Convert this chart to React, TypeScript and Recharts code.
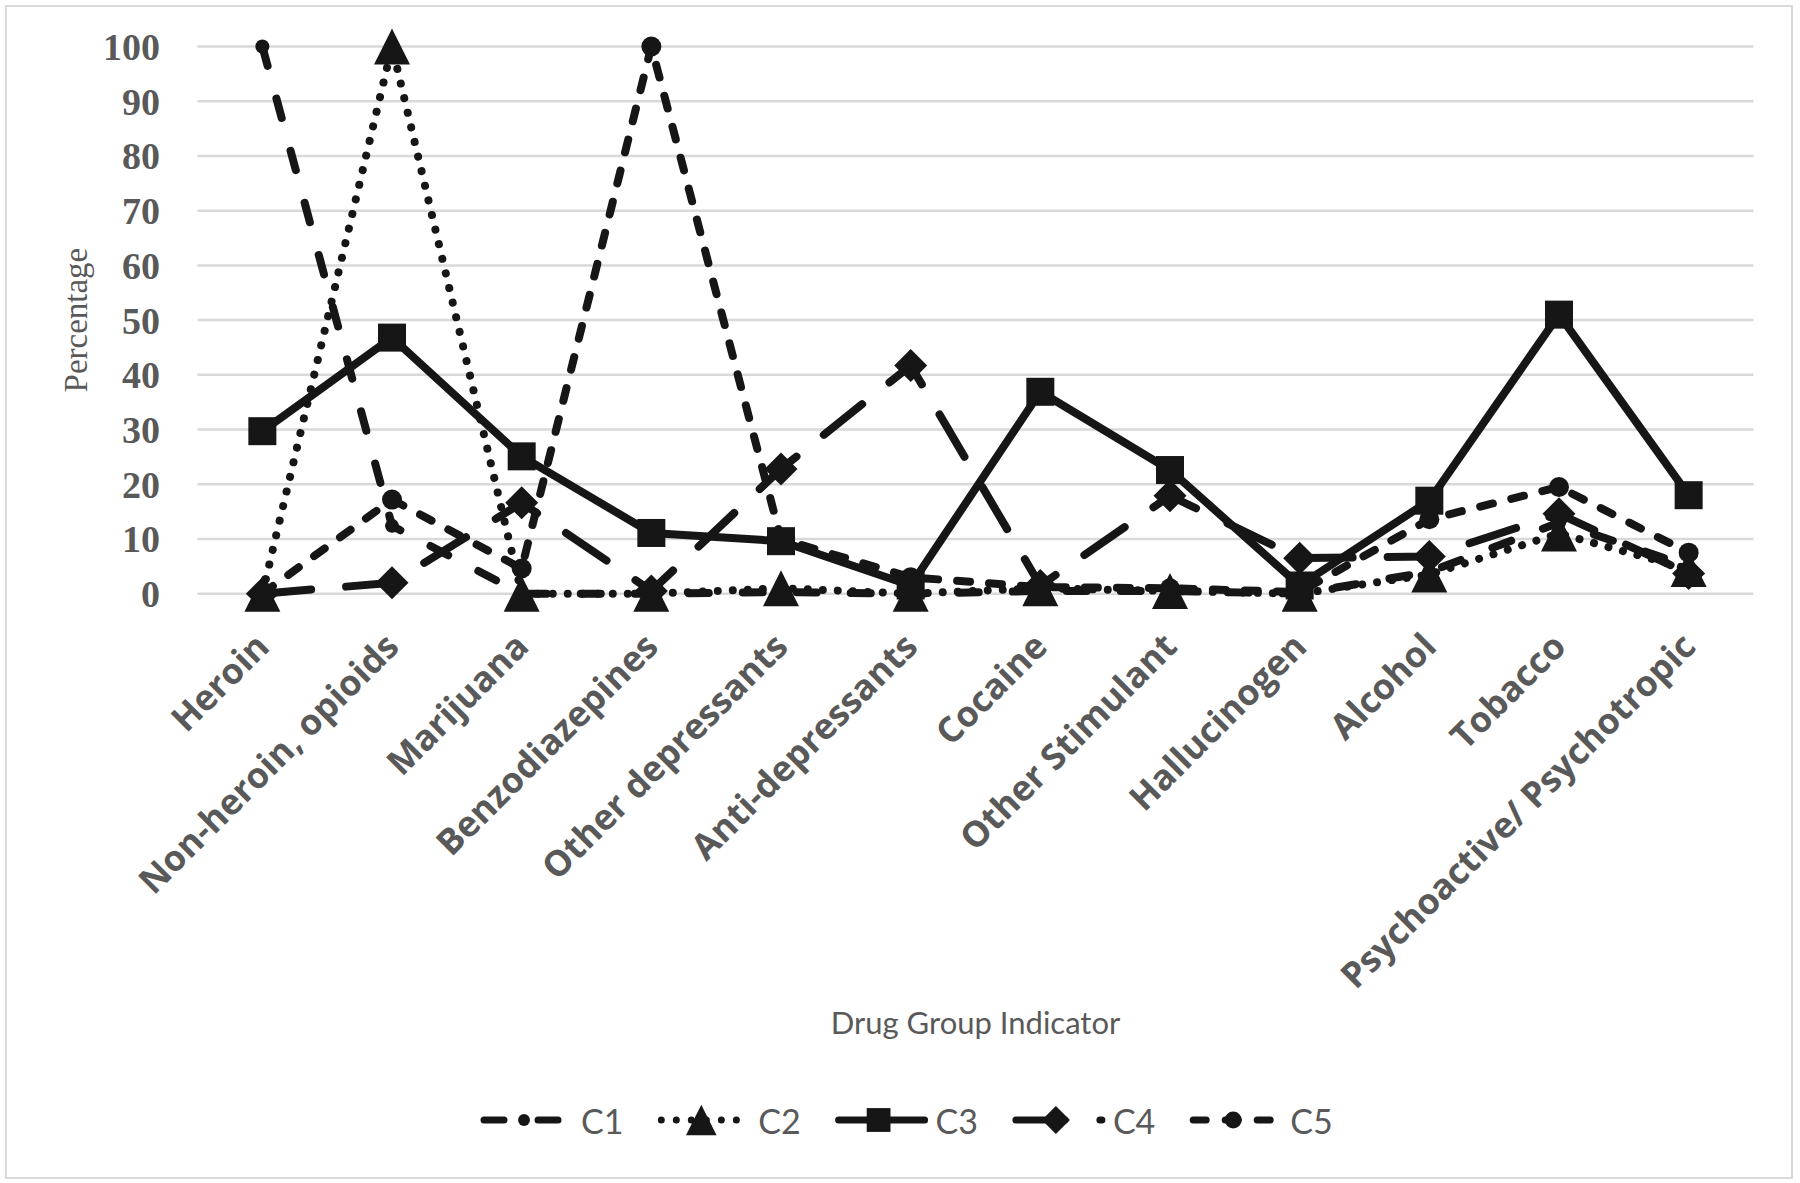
import React from 'react';
import { LineChart, Line, XAxis, YAxis, CartesianGrid, Legend } from 'recharts';

const categories = [
  'Heroin',
  'Non-heroin, opioids',
  'Marijuana',
  'Benzodiazepines',
  'Other depressants',
  'Anti-depressants',
  'Cocaine',
  'Other Stimulant',
  'Hallucinogen',
  'Alcohol',
  'Tobacco',
  'Psychoactive/ Psychotropic',
];

const c1 = [100, 12.4, 0, 0, 0.3, 0, 0.5, 0.5, 0, 4, 13, 5];
const c2 = [0, 100, 0, 0, 1, 0, 1, 0.5, 0, 3.5, 11, 4.5];
const c3 = [29.7, 46.8, 25.1, 11.1, 9.6, 1.5, 36.9, 22.6, 1.5, 17, 51, 18];
const c4 = [0, 2, 16.6, 0.5, 22.8, 41.7, 1.5, 17.9, 6.5, 6.8, 14.6, 3.7];
const c5 = [0, 17.2, 4.6, 100, 10, 3, 1.2, 1, 0.3, 13.6, 19.5, 7.5];

const yTicks = [0, 10, 20, 30, 40, 50, 60, 70, 80, 90, 100];

const seriesNames = ['C1', 'C2', 'C3', 'C4', 'C5'];

const data = categories.map((name, i) => ({
  name,
  C1: c1[i],
  C2: c2[i],
  C3: c3[i],
  C4: c4[i],
  C5: c5[i],
}));

const INK = '#161616';
const GREY = '#595959';

type Kind = 'circle' | 'triangle' | 'square' | 'diamond';

const styles: Record<string, { kind: Kind; size: number; dash?: string; width: number }> = {
  C1: { kind: 'circle', size: 14, dash: '20 34', width: 8 },
  C2: { kind: 'triangle', size: 36, dash: '0.01 15', width: 8 },
  C3: { kind: 'square', size: 28, width: 8 },
  C4: { kind: 'diamond', size: 33, dash: '49 35', width: 8 },
  C5: { kind: 'circle', size: 20, dash: '13 19', width: 8 },
};

function Marker({ kind, cx, cy, s }: { kind: Kind; cx: number; cy: number; s: number }) {
  const h = s / 2;
  if (kind === 'circle') return <circle cx={cx} cy={cy} r={h} fill={INK} />;
  if (kind === 'square') return <rect x={cx - h} y={cy - h} width={s} height={s} fill={INK} />;
  if (kind === 'triangle')
    return <polygon points={`${cx},${cy - h} ${cx + h},${cy + h} ${cx - h},${cy + h}`} fill={INK} />;
  return <polygon points={`${cx},${cy - h} ${cx + h},${cy} ${cx},${cy + h} ${cx - h},${cy}`} fill={INK} />;
}

const CHART_W = 1800;
const CHART_H = 1183;
const MARGIN = { top: 46.5, right: 46.5, left: 7.5, bottom: 33 };
const Y_AXIS_W = 190;
const LEGEND_H = 60;
const PLOT_BOTTOM = 593.7;
const X_AXIS_H = CHART_H - PLOT_BOTTOM - MARGIN.bottom - LEGEND_H;
const BAND_PAD = 64.85;

const XTick = (props: any) => {
  const { x, payload } = props;
  const ax = x + 9;
  const ay = PLOT_BOTTOM + 55;
  return (
    <text
      x={ax}
      y={ay}
      transform={`rotate(-45 ${ax} ${ay})`}
      textAnchor="end"
      fontFamily="'Open Sans', sans-serif"
      fontWeight={700}
      fontSize={35.5}
      fill={GREY}
    >
      {payload.value}
    </text>
  );
};

const renderLegend = () => (
  <svg width={CHART_W} height={LEGEND_H} style={{ display: 'block' }}>
    {seriesNames.map((name, i) => {
      const st = styles[name];
      const x0 = 480 + i * 177.3;
      const cy = LEGEND_H / 2;
      return (
        <g key={name}>
          <line
            x1={x0 + 4}
            x2={x0 + 90}
            y1={cy}
            y2={cy}
            stroke={INK}
            strokeWidth={st.width - 1}
            strokeDasharray={st.dash}
            strokeLinecap="round"
          />
          <Marker kind={st.kind} cx={x0 + 44} cy={cy} s={st.size * 0.85} />
          <text
            x={x0 + 101}
            y={cy}
            dominantBaseline="central"
            fontFamily="Lato, sans-serif"
            fontSize={34}
            fill={GREY}
          >
            {name}
          </text>
        </g>
      );
    })}
  </svg>
);

export default function App() {
  return (
    <div style={{ position: 'absolute', left: 0, top: 0, width: CHART_W, height: CHART_H, background: '#fff' }}>
      <div
        style={{
          position: 'absolute',
          left: 5,
          top: 5,
          width: 1784,
          height: 1170,
          border: '2px solid #d9d9d9',
        }}
      />
      <div style={{ position: 'absolute', left: 0, top: 0 }}>
        <LineChart width={CHART_W} height={CHART_H} data={data} margin={MARGIN}>
          <CartesianGrid vertical={false} stroke="#d9d9d9" strokeWidth={2.5} />
          <XAxis
            dataKey="name"
            type="category"
            scale="point"
            padding={{ left: BAND_PAD, right: BAND_PAD }}
            interval={0}
            axisLine={false}
            tickLine={false}
            height={X_AXIS_H}
            tick={<XTick />}
            label={{
              value: 'Drug Group Indicator',
              position: 'insideBottom',
              offset: 56,
              fill: GREY,
              fontSize: 31,
              fontFamily: 'Lato, sans-serif',
            }}
          />
          <YAxis
            domain={[0, 100]}
            ticks={yTicks}
            interval={0}
            width={Y_AXIS_W}
            axisLine={false}
            tickLine={false}
            tickSize={30}
            tickMargin={7.5}
            tick={{ fill: GREY, fontSize: 38, fontWeight: 700, fontFamily: "'Liberation Serif', serif" }}
            label={{
              value: 'Percentage',
              angle: -90,
              position: 'insideLeft',
              offset: 67.5,
              style: { textAnchor: 'middle' },
              fill: GREY,
              fontSize: 33,
              fontFamily: "'Liberation Serif', serif",
            }}
          />
          <Legend
            verticalAlign="bottom"
            height={LEGEND_H}
            content={renderLegend}
            wrapperStyle={{ left: 0, width: CHART_W }}
          />
          {seriesNames.map((name) => {
            const st = styles[name];
            return (
              <Line
                key={name}
                dataKey={name}
                name={name}
                type="linear"
                stroke={INK}
                strokeWidth={st.width}
                strokeDasharray={st.dash}
                strokeLinecap="round"
                strokeLinejoin="round"
                isAnimationActive={false}
                activeDot={false}
                dot={(p: any) => (
                  <Marker key={`${name}-${p.index}`} kind={st.kind} cx={p.cx} cy={p.cy} s={st.size} />
                )}
              />
            );
          })}
        </LineChart>
      </div>
    </div>
  );
}
